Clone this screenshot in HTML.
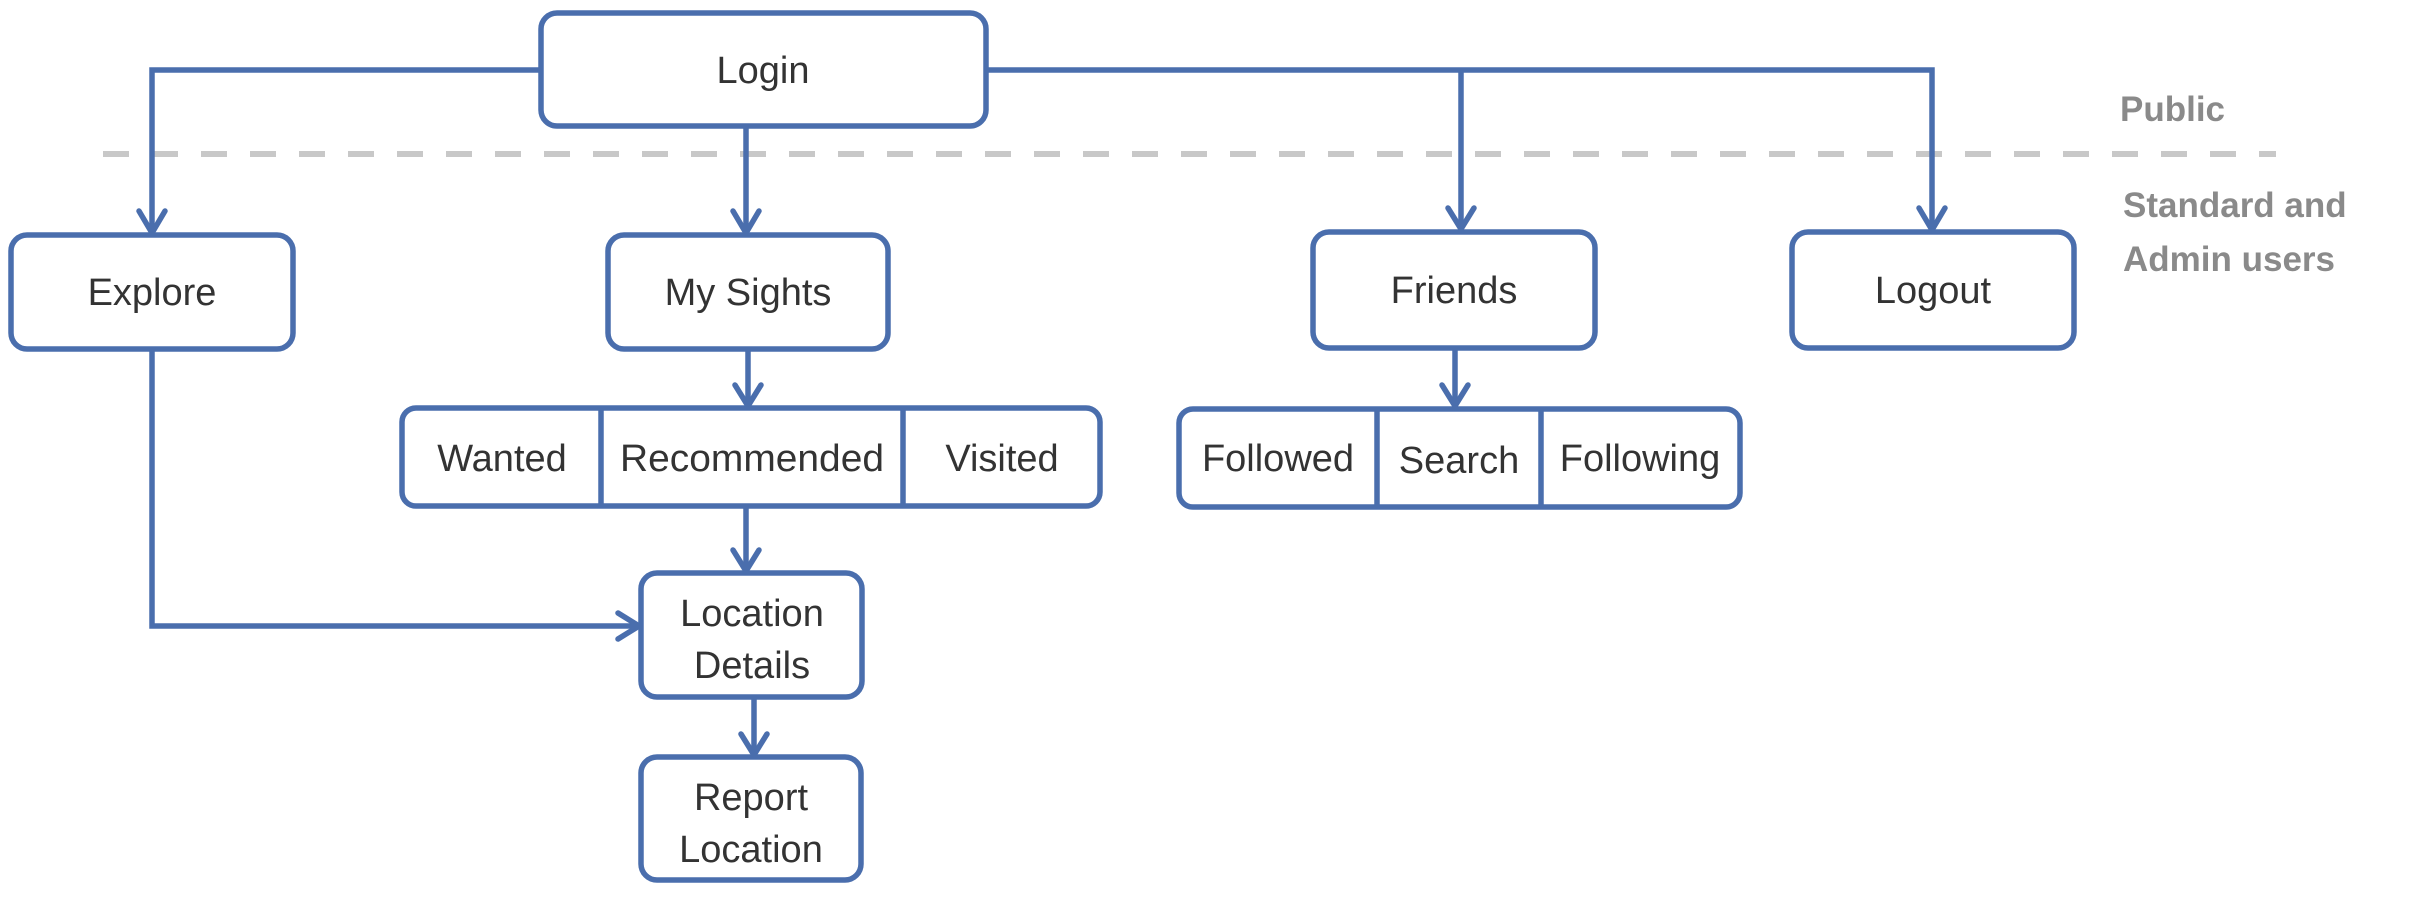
<!DOCTYPE html>
<html><head><meta charset="utf-8"><style>
html,body{margin:0;padding:0;background:#fff;}
svg{display:block;}
text{font-family:"Liberation Sans",sans-serif;}
</style></head><body>
<svg width="2409" height="899" viewBox="0 0 2409 899" xmlns="http://www.w3.org/2000/svg">
<g fill="none" stroke="#4a6ead" stroke-width="5.5">
<line x1="103" y1="154" x2="2276" y2="154" stroke="#c8c8c8" stroke-width="6" stroke-dasharray="26,23"/>
<polyline points="541,70 152,70 152,233"/>
<polyline points="986,70 1932,70 1932,230"/>
<line x1="1461" y1="70" x2="1461" y2="229"/>
<line x1="746" y1="126" x2="746" y2="233"/>
<line x1="748" y1="349" x2="748" y2="406"/>
<line x1="746" y1="506" x2="746" y2="571"/>
<line x1="754" y1="697" x2="754" y2="755"/>
<line x1="1455" y1="348" x2="1455" y2="406"/>
<polyline points="152,349 152,626 639,626"/>
<g stroke-linecap="round" stroke-linejoin="round">
<polyline points="139,211 152,233 165,211"/>
<polyline points="733,211 746,233 759,211"/>
<polyline points="735,385 748,406 761,385"/>
<polyline points="733,550 746,571 759,550"/>
<polyline points="741,734 754,755 767,734"/>
<polyline points="1442,385 1455,406 1468,385"/>
<polyline points="1448,208 1461,229 1474,208"/>
<polyline points="1919,208 1932,230 1945,208"/>
<polyline points="618,613 639,626 618,639"/>
</g>
<g fill="#fff">
<rect x="541" y="13" width="445" height="113" rx="16"/>
<rect x="11" y="235" width="282" height="114" rx="16"/>
<rect x="608" y="235" width="280" height="114" rx="16"/>
<rect x="1313" y="232" width="282" height="116" rx="16"/>
<rect x="1792" y="232" width="282" height="116" rx="16"/>
<rect x="402" y="408" width="698" height="98" rx="14"/>
<rect x="1179" y="409" width="561" height="98" rx="14"/>
<rect x="641" y="573" width="221" height="124" rx="16"/>
<rect x="641" y="757" width="220" height="123" rx="16"/>
</g>
<line x1="601" y1="408" x2="601" y2="506"/>
<line x1="903" y1="408" x2="903" y2="506"/>
<line x1="1377" y1="409" x2="1377" y2="507"/>
<line x1="1541" y1="409" x2="1541" y2="507"/>
</g>
<g fill="#333" font-size="38" text-anchor="middle">
<text x="763" y="83">Login</text>
<text x="152" y="305">Explore</text>
<text x="748" y="305">My Sights</text>
<text x="1454" y="303">Friends</text>
<text x="1933" y="303">Logout</text>
<text x="502" y="471">Wanted</text>
<text x="752" y="471" textLength="264" lengthAdjust="spacingAndGlyphs">Recommended</text>
<text x="1002" y="471">Visited</text>
<text x="1278" y="471">Followed</text>
<text x="1459" y="473">Search</text>
<text x="1640" y="471">Following</text>
<text x="752" y="626">Location</text>
<text x="752" y="678">Details</text>
<text x="751" y="810">Report</text>
<text x="751" y="862">Location</text>
</g>
<g fill="#8a8a8a" font-size="35" font-weight="bold">
<text x="2120" y="121">Public</text>
<text x="2123" y="217">Standard and</text>
<text x="2123" y="271">Admin users</text>
</g>
</svg>
</body></html>
